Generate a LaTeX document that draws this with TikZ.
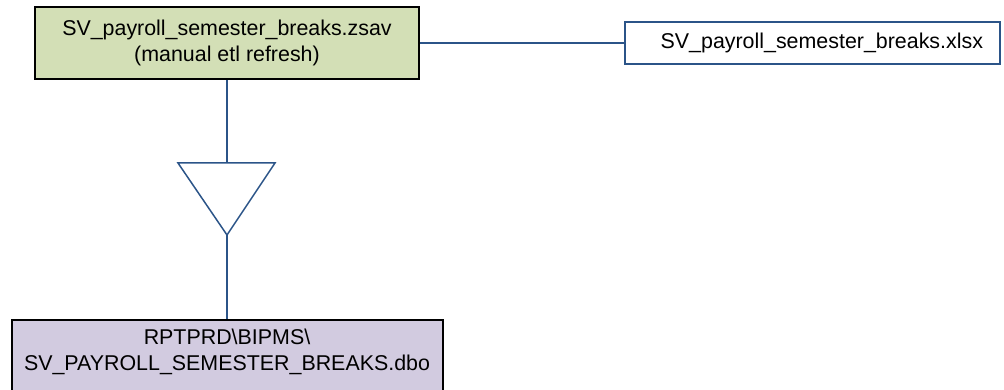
\documentclass[tikz,border=0pt]{standalone}
\usepackage{fontspec}
\setmainfont{Liberation Sans}
\usepackage{tikz}
\usepackage{xcolor}
\definecolor{etlgreen}{HTML}{D3DFB6}
\definecolor{dbpurple}{HTML}{D2CBE0}
\definecolor{linkblue}{HTML}{2B5488}

\begin{document}
\begin{tikzpicture}[x=1pt,y=-1pt,every node/.style={font=\fontsize{21.4}{26}\selectfont,align=center,inner sep=0pt},
  srcbox/.style={draw=black,line width=2pt,fill=etlgreen,minimum width=384pt,minimum height=72pt},
  filebox/.style={draw=linkblue,line width=1.5pt,fill=white,text width=341pt,inner xsep=17pt,align=right,minimum height=42pt},
  dbbox/.style={draw=black,line width=2pt,fill=dbpurple,minimum width=431pt,inner ysep=9pt,anchor=north},
  link/.style={draw=linkblue,line width=1.5pt}]
\useasboundingbox (0,0) rectangle (1004,390);
\node[srcbox] (zsav) at (227,43) {SV\_payroll\_semester\_breaks.zsav\\(manual etl refresh)};
\node[filebox] (xlsx) at (812.5,43) {SV\_payroll\_semester\_breaks.xlsx};
\node[dbbox] (dbo) at (227,319) {RPTPRD\textbackslash BIPMS\textbackslash\\SV\_PAYROLL\_SEMESTER\_BREAKS.dbo\\[20pt]~};
\coordinate (vtl) at (178,163);
\coordinate (vtr) at (275,163);
\coordinate (vtip) at (227,235);
\draw[link] (zsav.east) -- (xlsx.west);
\draw[link] (zsav.south) -- (zsav.south |- vtl);
\draw[link,line join=miter] (vtl) -- (vtr) -- (vtip) -- cycle;
\draw[link] (vtip) -- (dbo.north);
\end{tikzpicture}
\end{document}
